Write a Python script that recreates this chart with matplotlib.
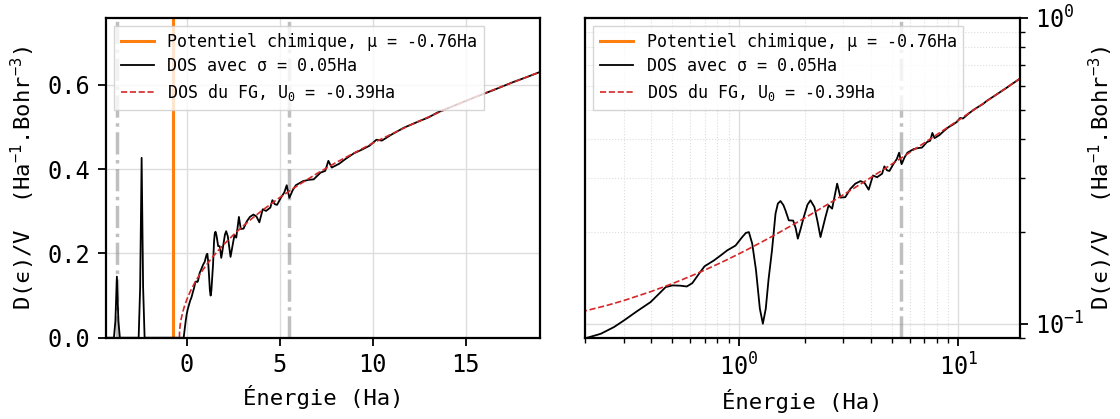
import numpy as np
import matplotlib
matplotlib.use('Agg')
import matplotlib.pyplot as plt

plt.rcParams['font.family'] = ['DejaVu Sans Mono', 'DejaVu Sans']
plt.rcParams['mathtext.fontset'] = 'custom'
plt.rcParams['mathtext.rm'] = 'DejaVu Sans Mono'
plt.rcParams['mathtext.it'] = 'DejaVu Sans Mono'
plt.rcParams['mathtext.bf'] = 'DejaVu Sans Mono:bold'

# chemical potential and marker lines (Ha)
mu = -0.76
vlines = [-3.75, 5.5]

# DOS with sigma = 0.05 Ha
energy = [-4.4, -3.91, -3.83, -3.75, -3.67, -3.59, -2.58, -2.50, -2.42, -2.34, -2.26,
          -0.16, -0.10, -0.05, 0.0, 0.05, 0.1, 0.15, 0.205, 0.236, 0.271, 0.301, 0.346,
          0.398, 0.442, 0.466, 0.50, 0.545, 0.581, 0.616, 0.661, 0.70, 0.773, 0.828, 0.888,
          0.969, 1.039, 1.08, 1.114, 1.154, 1.20, 1.25, 1.29, 1.33, 1.37, 1.42, 1.473, 1.51,
          1.552, 1.60, 1.635, 1.693, 1.773, 1.82, 1.861, 1.92, 1.98, 2.06, 2.125, 2.215, 2.29,
          2.36, 2.485, 2.57, 2.666, 2.74, 2.81, 2.91, 3.06, 3.23, 3.40, 3.59, 3.75, 3.91, 4.09,
          4.27, 4.50, 4.61, 4.74, 4.86, 5.08, 5.25, 5.38, 5.52, 5.70, 5.87, 6.27, 6.59, 6.83,
          7.2, 7.45, 7.62, 7.80, 8.2, 8.56, 9.0, 9.4, 9.84, 10.2, 10.5, 11.0, 11.7, 12.5,
          13.0, 13.5, 14.5, 15.5, 16.5, 17.5, 18.3, 19.0]
dos = [0.0, 0.0, 0.04, 0.145, 0.04, 0.0, 0.0, 0.119, 0.427, 0.119, 0.0,
       0.0, 0.022, 0.040, 0.055, 0.066, 0.074, 0.082, 0.090, 0.0927, 0.0975, 0.1025, 0.110,
       0.1177, 0.1268, 0.1317, 0.1334, 0.1331, 0.1323, 0.1357, 0.1457, 0.154, 0.161, 0.167, 0.1736,
       0.180, 0.1919, 0.1980, 0.1992, 0.1826, 0.150, 0.112, 0.100, 0.112, 0.140, 0.174, 0.2288, 0.247,
       0.2516, 0.244, 0.2345, 0.2176, 0.2172, 0.205, 0.1896, 0.205, 0.2229, 0.245, 0.2529, 0.2404, 0.215,
       0.1919, 0.2229, 0.2436, 0.2376, 0.262, 0.2868, 0.2582, 0.259, 0.276, 0.2868, 0.2924, 0.288, 0.274, 0.305,
       0.301, 0.309, 0.3266, 0.317, 0.3154, 0.3334, 0.345, 0.362, 0.332, 0.350, 0.362, 0.372, 0.375, 0.376,
       0.392, 0.396, 0.420, 0.404, 0.413, 0.425, 0.438, 0.446, 0.456, 0.470, 0.468, 0.482, 0.499, 0.514,
       0.523, 0.535, 0.553, 0.571, 0.588, 0.606, 0.619, 0.631]

# free gas DOS, U0 = -0.39 Ha
energy_fg = [-0.39, -0.38, -0.36, -0.33, -0.29, -0.2, -0.1, 0.0, 0.1, 0.2, 0.25, 0.3, 0.4,
             0.5, 0.6, 0.7, 0.8, 0.9, 1.0, 1.1, 1.2, 1.35, 1.5, 1.75, 2.0, 2.5, 3.0, 3.5, 4.0,
             5.0, 6.0, 7.0, 8.0, 10.0, 12.0, 14.0, 16.0, 19.0]
dos_fg = [0.0, 0.0143, 0.0248, 0.0351, 0.0453, 0.0625, 0.0772, 0.0895, 0.1003, 0.1101, 0.1146, 0.1190, 0.1274,
          0.1352, 0.1426, 0.1496, 0.1563, 0.1627, 0.1689, 0.1749, 0.1807, 0.1890, 0.1970, 0.2097, 0.2215, 0.2436,
          0.2638, 0.2826, 0.3002, 0.3327, 0.3622, 0.3896, 0.4151, 0.4619, 0.5044, 0.5436, 0.5801, 0.6310]

labels = ['Potentiel chimique, μ = -0.76Ha', 'DOS avec σ = 0.05Ha', 'DOS du FG, U$_0$ = -0.39Ha']


def draw(ax, pad=8):
    for v in vlines:
        ax.axvline(v, color='gray', ls='-.', lw=2.5, alpha=0.5)
    ax.axvline(mu, color='tab:orange', lw=2.2, label=labels[0])
    ax.plot(energy, dos, color='black', lw=1.3, label=labels[1])
    ax.plot(energy_fg, dos_fg, color='tab:red', ls='--', lw=1.2, label=labels[2])
    ax.set_xlabel('Énergie (Ha)', fontsize=16, labelpad=6)
    ax.set_ylabel('D(ϵ)/V  (Ha$^{-1}$.Bohr$^{-3}$)', fontsize=16, labelpad=pad)
    ax.tick_params(labelsize=17, width=1.3, length=6, pad=5)
    for s in ax.spines.values():
        s.set_linewidth(1.6)
    ax.legend(loc='upper left', fontsize=12, fancybox=False, borderaxespad=0.5,
              labelspacing=0.4, edgecolor='#cccccc')


fig = plt.figure(figsize=(11.2, 4.19), dpi=100)
ax1 = fig.add_axes([0.0944, 0.194, 0.3878, 0.764])
ax2 = fig.add_axes([0.5223, 0.194, 0.3880, 0.764])

draw(ax1)
ax1.set_xlim(-4.35, 19.0)
ax1.set_ylim(0, 0.76)
ax1.set_xticks([0, 5, 10, 15])
ax1.set_yticks([0, 0.2, 0.4, 0.6])
ax1.grid(color='#dddddd', lw=1)
ax1.set_axisbelow(True)

ax2.set_xscale('log')
ax2.set_yscale('log')
draw(ax2, pad=2)
ax2.set_xlim(0.2, 19.0)
ax2.set_ylim(0.09, 1.0)
ax2.yaxis.tick_right()
ax2.yaxis.set_label_position('right')
ax2.tick_params(which='minor', width=1.0, length=3.5)
ax2.grid(which='major', color='#dddddd', lw=1)
ax2.grid(which='minor', color='#dddddd', lw=0.8, ls=':')
ax2.set_axisbelow(True)

fig.savefig('out.png', dpi=100)
